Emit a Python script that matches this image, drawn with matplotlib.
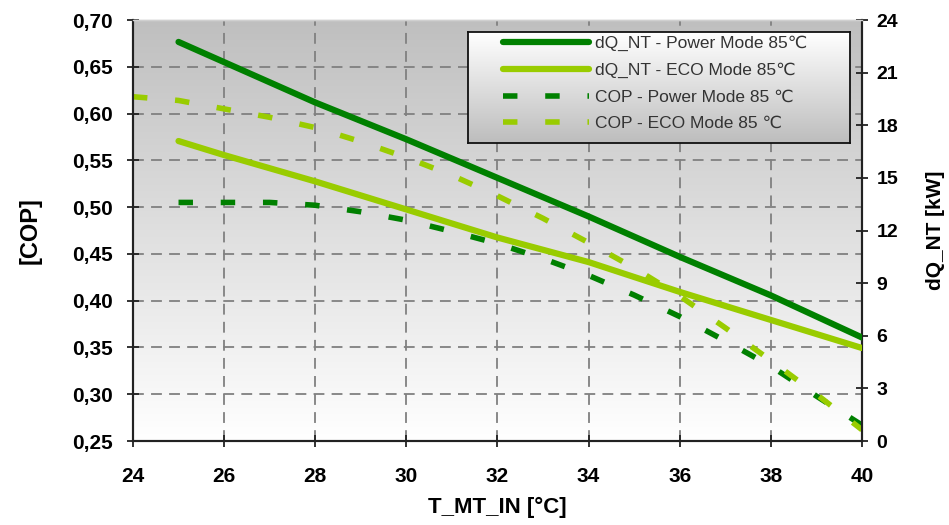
import numpy as np
import matplotlib
matplotlib.use("Agg")
import matplotlib.pyplot as plt
from matplotlib.lines import Line2D
from matplotlib.legend_handler import HandlerLine2D
from matplotlib.colors import LinearSegmentedColormap
from matplotlib.ticker import FuncFormatter

plt.rcParams['font.family'] = ['Liberation Sans', 'DejaVu Sans']

# data
t_dq = [25, 26, 28, 30, 32, 34, 36, 38, 40]
dq_power = [22.75, 21.6, 19.3, 17.2, 15.0, 12.8, 10.5, 8.3, 5.9]
dq_eco = [17.1, 16.3, 14.8, 13.2, 11.6, 10.2, 8.5, 6.9, 5.3]

t_cop_power = [25, 26, 27, 28, 29, 30, 31, 32, 33, 34, 35, 36, 37, 38, 39, 40]
cop_power = [0.505, 0.505, 0.505, 0.502, 0.495, 0.486, 0.474, 0.461, 0.445,
             0.427, 0.406, 0.383, 0.357, 0.330, 0.298, 0.267]
t_cop_eco = [24, 25, 26, 27, 28, 29, 30, 31, 32, 33, 34, 35, 36, 37, 38, 39, 40]
cop_eco = [0.618, 0.614, 0.605, 0.596, 0.585, 0.570, 0.553, 0.534, 0.512,
           0.488, 0.462, 0.435, 0.405, 0.371, 0.336, 0.300, 0.262]

labels = ["dQ_NT - Power Mode 85℃", "dQ_NT - ECO Mode 85℃",
          "COP - Power Mode 85 ℃", "COP - ECO Mode 85 ℃"]

dark = "#008000"
light = "#99cc00"
dash = (0, (2.6, 5.0))

fig = plt.figure(figsize=(9.49, 5.25), dpi=100)
ax = fig.add_axes([0.1401, 0.16, 0.7682, 0.8019])
ax2 = ax.twinx()

# gray-to-white gradient background
grad = np.linspace(0, 1, 256).reshape(-1, 1)
ax.imshow(grad, cmap=LinearSegmentedColormap.from_list("bg", ["#bfbfbf", "#ffffff"]),
          aspect="auto", extent=[24, 40, 0.25, 0.70], origin="upper", zorder=0)
ax.set_xlim(24, 40)
ax.set_ylim(0.25, 0.70)
ax2.set_ylim(0, 24)
ax2.patch.set_visible(False)

ax.grid(True, color="#808080", linestyle=(0, (6, 4)), linewidth=1.3, zorder=1)

ax.plot(t_cop_power, cop_power, color=dark, lw=4.0, ls=dash, zorder=3)
ax.plot(t_cop_eco, cop_eco, color=light, lw=4.0, ls=dash, zorder=3)
ax2.plot(t_dq, dq_power, color=dark, lw=4.5, solid_capstyle="round", zorder=3)
ax2.plot(t_dq, dq_eco, color=light, lw=4.5, solid_capstyle="round", zorder=3)

ax.set_xticks(range(24, 41, 2))
ax.set_yticks(np.arange(0.25, 0.701, 0.05))
ax.yaxis.set_major_formatter(FuncFormatter(lambda v, p: f"{v:.2f}".replace(".", ",")))
ax2.set_yticks(range(0, 25, 3))

for a in (ax, ax2):
    a.tick_params(direction="inout", length=9, width=1.3, labelsize=14, color="#222222")
    for lab in a.get_xticklabels() + a.get_yticklabels():
        lab.set_fontweight("bold")
    for s in a.spines.values():
        s.set_linewidth(1.5)
        s.set_color("#222222")
    a.spines["top"].set_color("#d0d0d0")
    a.spines["top"].set_linewidth(1.0)
ax.tick_params(axis="y", pad=10, labelsize=15)
ax.tick_params(axis="x", pad=14, labelsize=15)
ax2.tick_params(axis="y", pad=6)

ax.set_xlabel("T_MT_IN [°C]", fontsize=16, fontweight="bold", labelpad=8)
ax.set_ylabel("[COP]", fontsize=17, fontweight="bold", labelpad=22)
ax2.set_ylabel("dQ_NT [kW]", fontsize=15, fontweight="bold", labelpad=20)

# legend box with white-to-gray gradient
box_l, box_r, box_t, box_b = 468 / 949, 850 / 949, 1 - 32 / 525, 1 - 143 / 525
lax = fig.add_axes([box_l, box_b, box_r - box_l, box_t - box_b], zorder=4)
lax.imshow(grad, cmap=LinearSegmentedColormap.from_list("lg", ["#ffffff", "#bdbdbd"]),
           aspect="auto", extent=[0, 1, 0, 1], origin="upper")
lax.set_xticks([])
lax.set_yticks([])
for s in lax.spines.values():
    s.set_linewidth(1.3)
    s.set_color("#111111")

handles = [
    Line2D([], [], color=dark, lw=4.5, solid_capstyle="round"),
    Line2D([], [], color=light, lw=4.5, solid_capstyle="round"),
    Line2D([], [], color=dark, lw=4.0, ls=dash),
    Line2D([], [], color=light, lw=4.0, ls=dash),
]
leg = fig.legend(handles, labels, loc="upper left", bbox_to_anchor=(box_l, box_t - 0.004),
                 fontsize=12.5, handlelength=6.86, handletextpad=0.33,
                 labelspacing=0.65, borderpad=0.1, borderaxespad=0, frameon=False,
                 handler_map={h: HandlerLine2D(xpad=1.9) for h in handles})
leg.set_zorder(6)
for txt in leg.get_texts():
    txt.set_color("#333333")

fig.savefig("out.png", dpi=100)
